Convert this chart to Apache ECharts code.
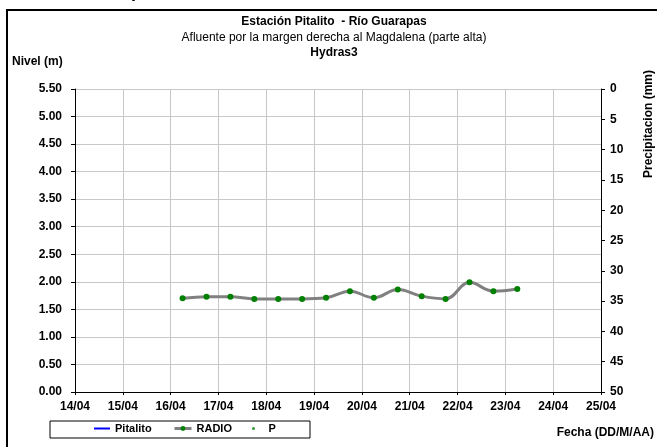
<!DOCTYPE html>
<html>
<head>
    <meta charset="utf-8">
    <title>Estación Pitalito - Río Guarapas</title>
    <script src="https://cdn.jsdelivr.net/npm/echarts@6/dist/echarts.min.js"></script>
    <style>
        html, body { margin: 0; padding: 0; background: #fff; }
        #chart { width: 657px; height: 447px; }
    </style>
</head>
<body>
<div id="chart"></div>
<script type="text/javascript">
    // datos
    var fechas = ['16/04 06:00', '16/04 18:00', '17/04 06:00', '17/04 18:00', '18/04 06:00',
        '18/04 18:00', '19/04 06:00', '19/04 18:00', '20/04 06:00', '20/04 18:00',
        '21/04 06:00', '21/04 18:00', '22/04 06:00', '22/04 18:00', '23/04 06:00'];
    var radio = [1.70, 1.73, 1.73, 1.69, 1.69, 1.69, 1.71, 1.83, 1.71, 1.86, 1.74, 1.69, 1.99, 1.83, 1.87];
    var pitalito = [];
    var precipitacion = [];
    var diasEje = ['14/04', '15/04', '16/04', '17/04', '18/04', '19/04',
        '20/04', '21/04', '22/04', '23/04', '24/04', '25/04'];
    var primerDia = 14;

    // fecha 'DD/MM hh:mm' -> dia de abril con decimales
    function aDia(f) {
        var d = parseInt(f.slice(0, 2), 10);
        var h = parseInt(f.slice(6, 8), 10);
        var m = parseInt(f.slice(9, 11), 10);
        return d + (h + m / 60) / 24;
    }

    var serieRadio = fechas.map(function (f, i) { return [aDia(f), radio[i]]; });

    var fuente = '"Liberation Sans", Arial, sans-serif';
    var myChart = echarts.init(document.getElementById('chart'));

    myChart.setOption({
        backgroundColor: '#fff',
        animation: false,
        textStyle: { fontFamily: fuente },
        grid: { left: 75, right: 56, top: 89, bottom: 55, containLabel: false },
        graphic: [
            { type: 'rect', shape: { x: 7, y: 10, width: 700, height: 500 },
              style: { fill: 'none', stroke: '#000', lineWidth: 2 }, z: -1 },
            // resto del titulo de la pagina, cortado arriba
            { type: 'text', x: 45, y: 1,
              style: { text: 'Río Guarapas', font: 'bold 18px ' + fuente, fill: '#000', textVerticalAlign: 'bottom' } },
            { type: 'text', x: 334, y: 22,
              style: { text: 'Estación Pitalito  - Río Guarapas', font: 'bold 12px ' + fuente, fill: '#000', textAlign: 'center', textVerticalAlign: 'middle' } },
            { type: 'text', x: 334, y: 38,
              style: { text: 'Afluente por la margen derecha al Magdalena (parte alta)', font: '12px ' + fuente, fill: '#000', textAlign: 'center', textVerticalAlign: 'middle' } },
            { type: 'text', x: 334, y: 53,
              style: { text: 'Hydras3', font: 'bold 12px ' + fuente, fill: '#000', textAlign: 'center', textVerticalAlign: 'middle' } },
            { type: 'text', x: 12, y: 62,
              style: { text: 'Nivel (m)', font: 'bold 12px ' + fuente, fill: '#000', textVerticalAlign: 'middle' } },
            { type: 'text', x: 649, y: 124, rotation: Math.PI / 2,
              style: { text: 'Precipitacion (mm)', font: 'bold 12px ' + fuente, fill: '#000', textAlign: 'center', textVerticalAlign: 'middle' } },
            { type: 'text', x: 654, y: 433,
              style: { text: 'Fecha (DD/M/AA)', font: 'bold 12px ' + fuente, fill: '#000', textAlign: 'right', textVerticalAlign: 'middle' } },
            { type: 'rect', shape: { x: 50, y: 421, width: 260, height: 17 },
              style: { fill: '#fff', stroke: '#000', lineWidth: 1 }, z: 1 }
        ],
        legend: [
            { data: [{ name: 'Pitalito', icon: 'rect' }], left: 94, top: 423, padding: 0, itemWidth: 16, itemHeight: 2, z: 5,
              textStyle: { fontFamily: fuente, fontWeight: 'bold', fontSize: 11, color: '#000' } },
            { data: ['RADIO'], left: 173, top: 423, padding: 0, itemWidth: 17, itemHeight: 6, z: 5,
              lineStyle: { width: 3 },
              textStyle: { fontFamily: fuente, fontWeight: 'bold', fontSize: 11, color: '#000' } },
            { data: ['P'], left: 252, top: 423, padding: 0, itemWidth: 20, itemHeight: 3, z: 5,
              textStyle: { fontFamily: fuente, fontWeight: 'bold', fontSize: 11, color: '#000' } }
        ],
        xAxis: {
            type: 'value',
            min: primerDia,
            max: primerDia + diasEje.length - 1,
            interval: 1,
            axisLine: { onZero: false, lineStyle: { color: '#000', width: 1 } },
            axisTick: { inside: false, length: 3, lineStyle: { color: '#000' } },
            axisLabel: {
                margin: 9, fontSize: 12, fontWeight: 'bold', color: '#000', fontFamily: fuente,
                formatter: function (v) { return diasEje[Math.round(v) - primerDia] || ''; }
            },
            splitLine: { show: true, lineStyle: { color: '#c8c8c8', width: 1 } }
        },
        yAxis: [
            {
                type: 'value', min: 0, max: 5.5, interval: 0.5,
                axisLine: { show: true, lineStyle: { color: '#000', width: 1 } },
                axisTick: { show: true, length: 4, lineStyle: { color: '#000' } },
                axisLabel: {
                    margin: 13, fontSize: 12, fontWeight: 'bold', color: '#000', fontFamily: fuente,
                    formatter: function (v) { return v.toFixed(2); }
                },
                splitLine: { show: true, lineStyle: { color: '#c8c8c8', width: 1 } }
            },
            {
                type: 'value', min: 0, max: 50, interval: 5, inverse: true, position: 'right',
                axisLine: { show: true, lineStyle: { color: '#000', width: 1 } },
                axisTick: { show: true, length: 4, lineStyle: { color: '#000' } },
                axisLabel: { margin: 9, fontSize: 12, fontWeight: 'bold', color: '#000', fontFamily: fuente },
                splitLine: { show: false }
            }
        ],
        series: [
            {
                name: 'Pitalito', type: 'line', data: pitalito, symbol: 'none',
                itemStyle: { color: '#0000ff' }, lineStyle: { color: '#0000ff', width: 2 }
            },
            {
                name: 'RADIO', type: 'line', data: serieRadio, smooth: 0.4,
                symbol: 'circle', symbolSize: 6,
                itemStyle: { color: '#008000' },
                lineStyle: { color: '#808080', width: 3 },
                z: 3
            },
            {
                name: 'P', type: 'scatter', data: precipitacion, yAxisIndex: 1,
                symbolSize: 3, itemStyle: { color: '#008000' }
            }
        ]
    });
</script>
</body>
</html>
